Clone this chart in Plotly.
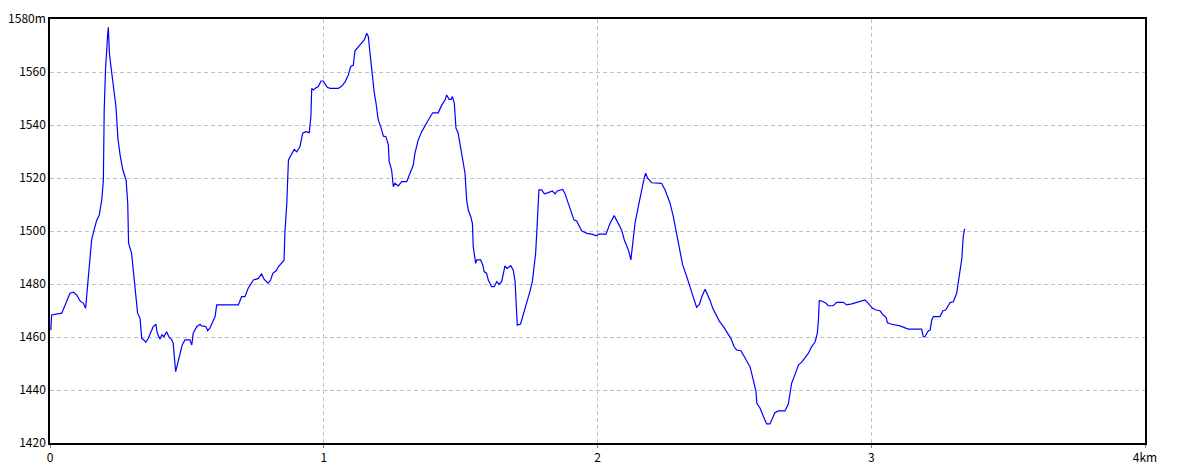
import plotly.graph_objects as go

dist_km = [
    0.003, 0.006, 0.043, 0.073, 0.085, 0.098, 0.110, 0.122, 0.130, 0.140,
    0.146, 0.152, 0.161, 0.171, 0.180, 0.189, 0.195, 0.198, 0.203, 0.207,
    0.211, 0.213, 0.217, 0.222, 0.231, 0.241, 0.248, 0.256, 0.266, 0.278,
    0.284, 0.287, 0.298, 0.311, 0.320, 0.329, 0.335, 0.343, 0.350, 0.359,
    0.369, 0.377, 0.387, 0.392, 0.402, 0.409, 0.416, 0.426, 0.435, 0.445,
    0.450, 0.454, 0.459, 0.465, 0.475, 0.483, 0.493, 0.511, 0.518, 0.523,
    0.536, 0.548, 0.554, 0.570, 0.576, 0.584, 0.603, 0.609, 0.688, 0.700,
    0.712, 0.724, 0.743, 0.761, 0.773, 0.782, 0.797, 0.806, 0.814, 0.826,
    0.834, 0.846, 0.855, 0.858, 0.865, 0.871, 0.883, 0.892, 0.901, 0.913,
    0.923, 0.935, 0.947, 0.953, 0.956, 0.962, 0.968, 0.980, 0.990, 0.998,
    1.013, 1.023, 1.053, 1.066, 1.078, 1.090, 1.098, 1.108, 1.114, 1.126,
    1.139, 1.148, 1.157, 1.163, 1.169, 1.175, 1.184, 1.191, 1.199, 1.208,
    1.218, 1.227, 1.236, 1.239, 1.248, 1.254, 1.260, 1.272, 1.285, 1.303,
    1.315, 1.327, 1.333, 1.345, 1.358, 1.370, 1.382, 1.398, 1.418, 1.431,
    1.443, 1.449, 1.458, 1.465, 1.470, 1.477, 1.483, 1.491, 1.504, 1.516,
    1.522, 1.528, 1.537, 1.543, 1.546, 1.555, 1.559, 1.573, 1.581, 1.586,
    1.595, 1.601, 1.613, 1.623, 1.632, 1.640, 1.650, 1.662, 1.670, 1.683,
    1.692, 1.699, 1.702, 1.707, 1.719, 1.729, 1.741, 1.753, 1.762, 1.768,
    1.774, 1.778, 1.782, 1.786, 1.796, 1.806, 1.820, 1.835, 1.845, 1.853,
    1.873, 1.881, 1.893, 1.906, 1.914, 1.924, 1.942, 1.961, 1.979, 1.997,
    2.003, 2.031, 2.046, 2.061, 2.076, 2.088, 2.098, 2.113, 2.122, 2.128,
    2.137, 2.149, 2.161, 2.171, 2.176, 2.183, 2.198, 2.234, 2.247, 2.265,
    2.277, 2.289, 2.299, 2.311, 2.326, 2.338, 2.350, 2.362, 2.372, 2.381,
    2.393, 2.403, 2.411, 2.421, 2.435, 2.445, 2.460, 2.472, 2.487, 2.499,
    2.508, 2.524, 2.533, 2.545, 2.557, 2.569, 2.579, 2.582, 2.594, 2.606,
    2.618, 2.630, 2.639, 2.648, 2.661, 2.685, 2.697, 2.703, 2.709, 2.721,
    2.734, 2.746, 2.758, 2.770, 2.782, 2.795, 2.803, 2.807, 2.810, 2.819,
    2.835, 2.843, 2.861, 2.874, 2.898, 2.910, 2.929, 2.947, 2.965, 2.977,
    2.989, 3.005, 3.017, 3.032, 3.044, 3.054, 3.059, 3.075, 3.105, 3.123,
    3.135, 3.184, 3.190, 3.196, 3.203, 3.208, 3.215, 3.221, 3.227, 3.251,
    3.262, 3.272, 3.288, 3.300, 3.312, 3.318, 3.324, 3.331, 3.336, 3.341,
]
elev_m = [
    1462.6, 1468.3, 1469.0, 1476.5, 1476.9, 1475.8, 1473.6, 1472.7, 1470.8, 1484.0,
    1489.7, 1496.6, 1500.4, 1504.2, 1506.0, 1511.7, 1519.2, 1545.7, 1561.4, 1570.8,
    1574.6, 1576.9, 1567.0, 1562.6, 1554.5, 1546.9, 1535.0, 1528.7, 1523.0, 1519.2,
    1510.5, 1495.4, 1491.6, 1479.6, 1469.0, 1467.0, 1459.5, 1458.9, 1458.0, 1459.5,
    1462.0, 1463.9, 1464.8, 1461.4, 1459.2, 1460.8, 1460.1, 1462.0, 1459.9, 1458.9,
    1457.6, 1452.0, 1446.9, 1449.4, 1453.8, 1457.0, 1458.9, 1458.9, 1457.0, 1461.4,
    1463.9, 1464.8, 1464.2, 1463.9, 1462.4, 1463.3, 1467.7, 1472.1, 1472.1, 1475.2,
    1475.2, 1478.4, 1481.5, 1482.1, 1483.8, 1481.8, 1480.3, 1481.5, 1484.0, 1485.0,
    1486.5, 1487.8, 1489.0, 1499.1, 1510.5, 1526.8, 1529.3, 1530.8, 1529.9, 1531.8,
    1536.9, 1537.5, 1537.1, 1543.1, 1553.8, 1553.2, 1553.8, 1554.5, 1556.6, 1556.6,
    1554.2, 1553.8, 1553.8, 1554.7, 1556.3, 1558.9, 1562.0, 1562.6, 1568.0, 1569.5,
    1571.1, 1572.1, 1574.6, 1573.3, 1567.1, 1560.8, 1552.6, 1548.2, 1541.9, 1539.4,
    1535.8, 1535.6, 1532.5, 1526.2, 1523.0, 1516.7, 1518.0, 1517.0, 1518.6, 1518.6,
    1521.8, 1524.9, 1529.3, 1534.3, 1537.5, 1540.0, 1541.9, 1544.6, 1544.6, 1547.5,
    1549.4, 1551.3, 1549.7, 1549.7, 1550.7, 1548.2, 1538.8, 1536.9, 1529.3, 1521.8,
    1511.7, 1507.9, 1505.4, 1502.9, 1494.1, 1487.8, 1489.1, 1489.1, 1487.2, 1484.7,
    1484.0, 1481.5, 1479.0, 1479.0, 1480.9, 1479.9, 1480.9, 1486.8, 1485.9, 1486.9,
    1485.3, 1480.9, 1474.6, 1464.5, 1464.9, 1468.3, 1472.1, 1477.1, 1480.9, 1487.2,
    1491.6, 1499.1, 1509.8, 1515.5, 1515.5, 1514.0, 1514.5, 1515.1, 1514.0, 1515.1,
    1515.7, 1514.2, 1510.5, 1506.7, 1504.2, 1503.8, 1500.1, 1499.1, 1498.8, 1498.2,
    1498.8, 1498.8, 1502.9, 1505.8, 1502.6, 1500.4, 1496.6, 1492.8, 1489.1, 1495.4,
    1502.9, 1509.2, 1515.5, 1520.1, 1521.8, 1519.9, 1518.2, 1518.0, 1515.5, 1510.5,
    1505.4, 1499.1, 1492.8, 1487.2, 1482.8, 1479.0, 1475.2, 1471.2, 1472.3, 1475.2,
    1478.0, 1475.8, 1473.9, 1470.8, 1467.7, 1466.0, 1463.9, 1462.0, 1459.5, 1456.3,
    1455.1, 1454.8, 1453.2, 1451.1, 1448.8, 1443.8, 1439.4, 1435.0, 1433.1, 1430.0,
    1427.2, 1427.2, 1429.3, 1431.4, 1432.1, 1432.1, 1434.7, 1438.1, 1442.5, 1445.7,
    1449.4, 1450.5, 1452.0, 1453.8, 1456.3, 1458.2, 1461.4, 1466.4, 1473.7, 1473.6,
    1472.7, 1471.8, 1471.8, 1473.1, 1473.1, 1472.1, 1472.5, 1473.1, 1473.6, 1474.0,
    1472.7, 1470.8, 1470.2, 1469.9, 1468.3, 1467.4, 1465.4, 1464.8, 1464.2, 1463.5,
    1463.0, 1463.0, 1460.1, 1460.1, 1461.6, 1462.3, 1462.6, 1466.4, 1467.7, 1467.7,
    1469.9, 1470.2, 1473.0, 1473.3, 1476.5, 1480.3, 1485.3, 1489.7, 1497.9, 1500.8,
]

x_tick_vals = [0, 1, 2, 3, 4]
x_tick_text = ["0", "1", "2", "3", "4km"]
y_tick_vals = [1420, 1440, 1460, 1480, 1500, 1520, 1540, 1560, 1580]
y_tick_text = ["1420", "1440", "1460", "1480", "1500", "1520", "1540", "1560", "1580m"]

font_family = "Noto Sans CJK JP, DejaVu Sans, sans-serif"

fig = go.Figure()
fig.add_trace(go.Scatter(
    x=dist_km, y=elev_m, mode="lines",
    line=dict(color="#0000ff", width=1.2),
    hoverinfo="x+y", showlegend=False,
))

fig.update_layout(
    width=1184, height=473,
    margin=dict(l=50, r=39, t=19, b=30, autoexpand=False),
    paper_bgcolor="white", plot_bgcolor="white",
    font=dict(family=font_family, size=12, color="black"),
    xaxis=dict(
        range=[0, 4], tickmode="array", tickvals=x_tick_vals, ticktext=x_tick_text,
        showgrid=True, gridcolor="#c0c0c0", gridwidth=1, griddash="4px,3px",
        showline=True, linecolor="black", linewidth=1.5, mirror=True,
        ticks="outside", ticklen=3, tickcolor="#808080",
        zeroline=False, fixedrange=True, automargin=False,
    ),
    yaxis=dict(
        range=[1420, 1580], tickmode="array", tickvals=y_tick_vals, ticktext=y_tick_text,
        showgrid=True, gridcolor="#c0c0c0", gridwidth=1, griddash="4px,3px",
        showline=True, linecolor="black", linewidth=1.5, mirror=True,
        ticks="", zeroline=False, fixedrange=True, automargin=False,
    ),
)

fig.write_html(
    "out.html",
    config={"displayModeBar": False},
    post_script="document.body.style.margin='0';document.body.style.overflow='hidden';",
)
